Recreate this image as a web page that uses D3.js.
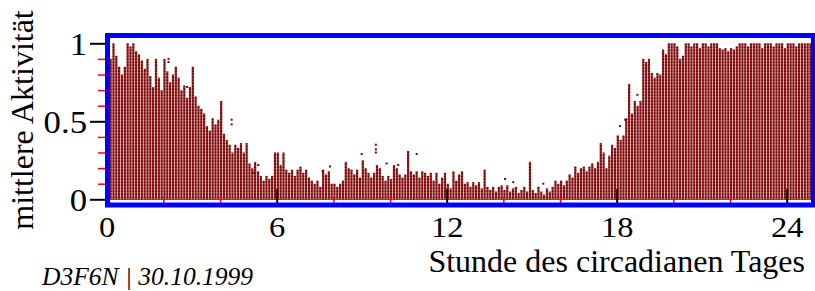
<!DOCTYPE html>
<html>
<head>
<meta charset="utf-8">
<script src="https://cdn.jsdelivr.net/npm/d3@7"></script>
<style>
  html, body { margin: 0; padding: 0; background: #fff; }
  svg { display: block; font-family: "Liberation Serif", "Times New Roman", serif; }
</style>
</head>
<body>
<div id="chart"></div>
<script>
// mean activity per 6-minute bin of the circadian day (bin i starts at hour i*0.1)
const binHours = 0.1;
const activity = [
  // 0 h
  0.85, 0.90, 1.00, 0.92, 0.85, 0.80, 0.85, 1.00, 0.98, 1.00,
  // 1 h
  0.95, 0.93, 0.89, 0.83, 0.90, 0.79, 0.72, 0.90, 0.78, 0.70,
  // 2 h
  0.90, 0.82, 0.75, 0.80, 0.85, 0.78, 0.70, 0.73, 0.65, 0.72,
  // 3 h
  0.85, 0.66, 0.60, 0.58, 0.55, 0.47, 0.44, 0.52, 0.48, 0.51,
  // 4 h
  0.63, 0.42, 0.38, 0.35, 0.30, 0.35, 0.33, 0.36, 0.30, 0.36,
  // 5 h
  0.23, 0.20, 0.24, 0.18, 0.15, 0.12, 0.15, 0.13, 0.15, 0.30,
  // 6 h
  0.30, 0.22, 0.30, 0.19, 0.17, 0.19, 0.15, 0.19, 0.21, 0.17,
  // 7 h
  0.19, 0.14, 0.12, 0.10, 0.12, 0.08, 0.19, 0.16, 0.18, 0.10,
  // 8 h
  0.10, 0.08, 0.10, 0.12, 0.24, 0.20, 0.19, 0.16, 0.19, 0.14,
  // 9 h
  0.25, 0.20, 0.17, 0.14, 0.17, 0.22, 0.20, 0.15, 0.12, 0.15,
  // 10 h
  0.13, 0.22, 0.20, 0.16, 0.14, 0.16, 0.31, 0.18, 0.16, 0.18,
  // 11 h
  0.14, 0.18, 0.17, 0.15, 0.17, 0.12, 0.17, 0.10, 0.14, 0.17,
  // 12 h
  0.10, 0.07, 0.18, 0.12, 0.16, 0.18, 0.10, 0.11, 0.08, 0.11,
  // 13 h
  0.09, 0.11, 0.07, 0.19, 0.08, 0.06, 0.08, 0.05, 0.08, 0.09,
  // 14 h
  0.06, 0.09, 0.05, 0.07, 0.08, 0.04, 0.06, 0.08, 0.05, 0.24,
  // 15 h
  0.06, 0.04, 0.08, 0.05, 0.03, 0.07, 0.05, 0.08, 0.12, 0.10,
  // 16 h
  0.12, 0.09, 0.12, 0.16, 0.14, 0.21, 0.17, 0.20, 0.21, 0.18,
  // 17 h
  0.21, 0.23, 0.20, 0.24, 0.36, 0.30, 0.20, 0.28, 0.35, 0.33,
  // 18 h
  0.41, 0.38, 0.41, 0.52, 0.74, 0.55, 0.63, 0.60, 0.63, 0.90,
  // 19 h
  0.88, 0.90, 0.81, 0.78, 0.81, 0.80, 0.96, 0.93, 1.00, 1.00,
  // 20 h
  1.00, 0.98, 0.90, 0.92, 1.00, 1.00, 0.98, 1.00, 1.00, 0.97,
  // 21 h
  1.00, 1.00, 0.98, 1.00, 1.00, 1.00, 0.97, 0.96, 0.97, 0.95,
  // 22 h
  0.97, 0.96, 0.98, 1.00, 1.00, 1.00, 0.98, 1.00, 1.00, 1.00,
  // 23 h
  1.00, 0.97, 1.00, 1.00, 1.00, 0.98, 1.00, 1.00, 1.00, 0.97,
  // 24 h
  1.00, 1.00, 1.00, 0.98, 1.00, 1.00, 1.00, 1.00, 1.00, 0.98
];

// isolated points above the bars: [hour, activity]
const dots = [
  [1.35, 0.83], [2.18, 0.90], [2.18, 0.88], [2.84, 0.72], [4.41, 0.51],
  [4.41, 0.48], [5.17, 0.17], [5.35, 0.22], [7.62, 0.18], [7.88, 0.21],
  [9.00, 0.29], [9.50, 0.35], [9.50, 0.32], [9.50, 0.30], [9.88, 0.23],
  [10.29, 0.22], [10.94, 0.29], [14.06, 0.13], [14.35, 0.11], [15.41, 0.10],
  [18.12, 0.47], [18.30, 0.51], [18.73, 0.67]
];

const xMajorTicks = [0, 6, 12, 18, 24];
const xMinorTicks = [2, 4, 8, 10, 14, 16, 20, 22];
const yMajorTicks = [0, 0.5, 1];
const yMinorTicks = [0.1, 0.2, 0.3, 0.4, 0.6, 0.7, 0.8, 0.9];

const xTitle = "Stunde des circadianen Tages";
const yTitle = "mittlere Aktivität";
const footer = "D3F6N | 30.10.1999";

const width = 815, height = 291;
const frame = { left: 107.5, top: 35.5, right: 813.5, bottom: 205 };

const x = d3.scaleLinear().domain([0, 25]).range([106.7, 815]);
const y = d3.scaleLinear().domain([0, 1]).range([199.3, 43.3]);

const svg = d3.select("#chart").append("svg")
  .attr("width", width)
  .attr("height", height);

const defs = svg.append("defs");

// horizontal stripe texture of the bars
const pat = defs.append("pattern")
  .attr("id", "stripes")
  .attr("patternUnits", "userSpaceOnUse")
  .attr("x", 0).attr("y", y(0) % 3)
  .attr("width", 6).attr("height", 3);
pat.append("rect").attr("width", 6).attr("height", 3).attr("fill", "#780000");
pat.append("rect").attr("y", 2).attr("width", 6).attr("height", 1).attr("fill", "#a44848");

defs.append("clipPath").attr("id", "plotClip")
  .append("rect")
  .attr("x", frame.left).attr("y", frame.top)
  .attr("width", frame.right - frame.left)
  .attr("height", frame.bottom - frame.top);

const plot = svg.append("g").attr("clip-path", "url(#plotClip)");

// baseline
plot.append("line")
  .attr("x1", x(0)).attr("x2", x(25))
  .attr("y1", y(0)).attr("y2", y(0))
  .attr("stroke", "#8b1a1a")
  .attr("stroke-width", 1);

const barW = x(binHours) - x(0) - 0.6;

plot.selectAll("rect.bar")
  .data(activity)
  .join("rect")
  .attr("class", "bar")
  .attr("x", (d, i) => x(i * binHours))
  .attr("y", d => y(d))
  .attr("width", barW)
  .attr("height", d => y(0) - y(d))
  .attr("fill", "url(#stripes)");

plot.selectAll("rect.dot")
  .data(dots)
  .join("rect")
  .attr("class", "dot")
  .attr("x", d => x(d[0]) - 1)
  .attr("y", d => y(d[1]) - 1)
  .attr("width", 2)
  .attr("height", 2)
  .attr("fill", "#800000");

// x ticks, pointing up from the bottom of the frame
const xMinor = svg.append("g")
  .attr("transform", `translate(0,${frame.bottom - 2})`)
  .call(d3.axisTop(x).tickValues(xMinorTicks).tickSize(6).tickFormat(""));
xMinor.select(".domain").remove();
xMinor.selectAll("line").attr("stroke", "#ff0000").attr("stroke-width", 1.5);

const xMajor = svg.append("g")
  .attr("transform", `translate(0,${frame.bottom - 2})`)
  .call(d3.axisTop(x).tickValues(xMajorTicks).tickSize(14).tickFormat(""));
xMajor.select(".domain").remove();
xMajor.selectAll("line").attr("stroke", "#000").attr("stroke-width", 2);

// x tick labels
const xLab = svg.append("g")
  .attr("transform", "translate(0,237)")
  .call(d3.axisBottom(x).tickValues(xMajorTicks).tickSize(0).tickFormat(d3.format("~g")));
xLab.select(".domain").remove();
xLab.selectAll("text")
  .attr("y", 0).attr("dy", 0)
  .attr("fill", "#000")
  .style("font-family", "Liberation Serif, serif")
  .style("font-size", "29px")
  .attr("transform", "scale(1.12,1)");

// y ticks, outside left
const yMinor = svg.append("g")
  .attr("transform", `translate(${frame.left - 2.5},0)`)
  .call(d3.axisLeft(y).tickValues(yMinorTicks).tickSize(7).tickFormat(""));
yMinor.select(".domain").remove();
yMinor.selectAll("line").attr("stroke", "#ff0000").attr("stroke-width", 1.5);

const yMajor = svg.append("g")
  .attr("transform", `translate(${frame.left - 2.5},0)`)
  .call(d3.axisLeft(y).tickValues(yMajorTicks).tickSize(15).tickFormat(d3.format("~g")));
yMajor.select(".domain").remove();
yMajor.selectAll("line").attr("stroke", "#000").attr("stroke-width", 2);
yMajor.selectAll("text")
  .attr("x", 0).attr("dy", "0.35em")
  .attr("fill", "#000")
  .style("font-family", "Liberation Serif, serif")
  .style("font-size", "31px")
  .attr("transform", "translate(-18,0) scale(1.12,1)");

// frame
svg.append("rect")
  .attr("x", frame.left).attr("y", frame.top)
  .attr("width", frame.right - frame.left)
  .attr("height", frame.bottom - frame.top)
  .attr("fill", "none")
  .attr("stroke", "#0000ff")
  .attr("stroke-width", 5);

// titles
svg.append("text")
  .attr("x", 805).attr("y", 272)
  .attr("text-anchor", "end")
  .style("font-size", "32px")
  .text(xTitle);

svg.append("text")
  .attr("transform", "translate(33,120) rotate(-90)")
  .attr("text-anchor", "middle")
  .style("font-size", "32px")
  .text(yTitle);

svg.append("text")
  .attr("x", 42).attr("y", 285)
  .style("font-size", "25.5px")
  .style("font-style", "italic")
  .text(footer);
</script>
</body>
</html>
